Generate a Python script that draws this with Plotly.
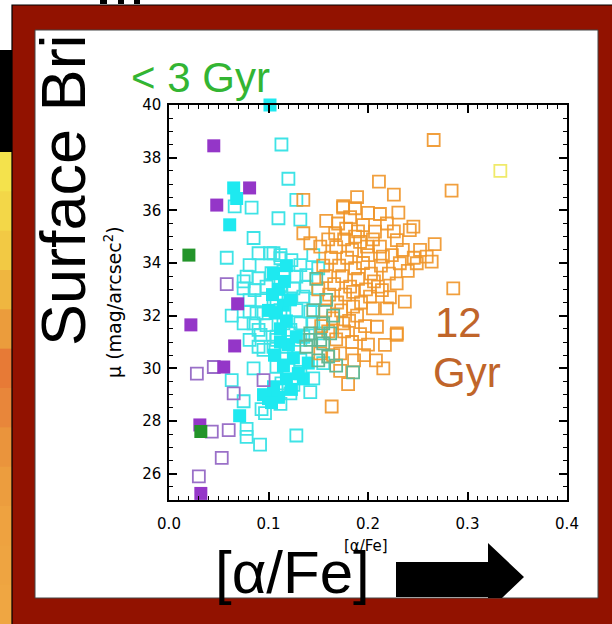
import plotly.graph_objects as go

# ---- data: [alpha/Fe] vs surface brightness mu (mag/arcsec^2) per population ----
green_filled = [(0.020, 34.30), (0.032, 27.60)]

purple_filled = [(0.045, 38.45), (0.081, 36.85), (0.048, 36.20), (0.069, 32.45),
                 (0.022, 31.65), (0.066, 30.85), (0.055, 30.05), (0.031, 27.85), (0.032, 25.25)]

purple_open = [(0.058, 33.20), (0.045, 30.05), (0.028, 29.80), (0.065, 29.05), (0.095, 29.55),
               (0.043, 27.60), (0.060, 27.65), (0.053, 26.60), (0.030, 25.90)]

cyan_filled = [(0.1015, 40.00), (0.065, 36.85), (0.068, 36.45), (0.061, 35.45), (0.071, 28.20),
               (0.100, 28.85), (0.135, 29.60), (0.105, 33.60), (0.118, 33.90), (0.110, 33.00),
               (0.115, 32.40), (0.108, 32.10), (0.122, 32.60), (0.100, 32.20), (0.118, 31.80),
               (0.112, 31.50), (0.120, 30.90), (0.128, 31.20), (0.125, 30.40), (0.115, 30.10),
               (0.118, 29.60), (0.105, 29.30), (0.095, 29.00), (0.130, 29.80), (0.140, 30.20),
               (0.110, 28.90), (0.104, 32.80), (0.112, 31.00), (0.106, 30.50), (0.123, 29.20),
               (0.103, 28.70), (0.116, 33.30)]

cyan_open = [(0.113, 38.50), (0.120, 37.20), (0.066, 36.15), (0.083, 36.10), (0.128, 36.40),
             (0.110, 35.70), (0.132, 35.65), (0.085, 34.95), (0.058, 34.20), (0.105, 34.37),
             (0.112, 34.30), (0.075, 33.30), (0.063, 32.00), (0.088, 32.09), (0.081, 33.92),
             (0.090, 34.37), (0.1015, 34.37), (0.112, 34.18), (0.123, 34.11), (0.132, 33.92),
             (0.078, 33.48), (0.090, 33.42), (0.103, 33.61), (0.115, 33.67), (0.128, 33.48),
             (0.138, 33.54), (0.075, 33.04), (0.086, 32.97), (0.098, 33.10), (0.112, 33.16),
             (0.125, 33.04), (0.138, 33.10), (0.081, 32.59), (0.093, 32.59), (0.108, 32.59),
             (0.122, 32.66), (0.135, 32.72), (0.147, 32.59), (0.081, 32.15), (0.095, 32.09),
             (0.112, 32.21), (0.128, 32.21), (0.142, 32.15), (0.085, 31.71), (0.098, 31.64),
             (0.115, 31.71), (0.132, 31.71), (0.145, 31.71), (0.075, 31.71), (0.092, 31.27),
             (0.108, 31.20), (0.122, 31.33), (0.135, 31.20), (0.152, 31.33), (0.090, 31.46),
             (0.090, 30.82), (0.105, 30.82), (0.118, 30.82), (0.081, 31.08), (0.108, 31.08),
             (0.132, 31.08), (0.122, 31.46), (0.095, 30.70), (0.118, 30.57), (0.132, 30.32),
             (0.108, 30.06), (0.120, 29.94), (0.132, 29.81), (0.145, 29.62), (0.113, 29.43),
             (0.125, 29.37), (0.085, 30.00), (0.063, 29.55), (0.075, 28.75), (0.078, 27.70),
             (0.078, 27.40), (0.0915, 27.10), (0.128, 27.45), (0.0965, 28.30), (0.093, 28.45),
             (0.112, 28.65), (0.122, 29.05), (0.108, 29.20), (0.142, 29.10), (0.155, 30.20),
             (0.145, 34.30), (0.150, 33.80)]

teal_open = [(0.145, 32.21), (0.155, 31.71), (0.162, 31.33), (0.142, 31.08), (0.155, 30.95),
             (0.142, 31.33), (0.152, 31.08), (0.138, 30.82), (0.160, 30.45), (0.168, 30.10),
             (0.185, 29.85), (0.150, 30.30), (0.165, 32.00), (0.158, 32.60), (0.148, 33.40)]

orange_open = [(0.266, 38.67), (0.211, 37.09), (0.226, 36.60), (0.284, 36.75), (0.189, 36.50),
               (0.175, 36.16), (0.187, 36.08), (0.212, 35.86), (0.2305, 35.91), (0.182, 35.74),
               (0.195, 35.44), (0.219, 35.50), (0.2456, 35.38), (0.167, 35.13), (0.187, 35.00),
               (0.207, 35.19), (0.229, 34.87), (0.242, 35.25), (0.267, 34.72), (0.2523, 34.50),
               (0.259, 34.24), (0.264, 34.05), (0.249, 33.99), (0.232, 33.99), (0.212, 34.62),
               (0.215, 34.24), (0.199, 34.62), (0.2857, 33.04), (0.237, 32.53), (0.2288, 33.23),
               (0.214, 32.97), (0.202, 32.72), (0.185, 32.34), (0.209, 31.58), (0.229, 31.33),
               (0.175, 31.71), (0.135, 36.40), (0.175, 36.10), (0.135, 35.13), (0.142, 34.75),
               (0.152, 34.62), (0.1635, 28.55), (0.2154, 30.00), (0.217, 30.89), (0.2288, 31.27),
               (0.165, 30.50), (0.152, 30.57), (0.172, 30.57), (0.219, 32.28), (0.205, 32.28),
               (0.160, 34.90), (0.168, 34.60), (0.176, 34.90), (0.184, 34.50), (0.192, 34.80),
               (0.200, 34.30), (0.163, 34.20), (0.171, 33.90), (0.179, 34.20), (0.187, 33.80),
               (0.195, 34.00), (0.203, 33.60), (0.158, 33.50), (0.166, 33.20), (0.174, 33.50),
               (0.182, 33.10), (0.190, 33.40), (0.198, 33.00), (0.206, 33.30), (0.161, 32.80),
               (0.169, 32.50), (0.177, 32.80), (0.185, 32.90), (0.193, 32.50), (0.157, 32.20),
               (0.165, 31.90), (0.173, 32.20), (0.181, 31.80), (0.189, 32.00), (0.197, 31.60),
               (0.160, 31.40), (0.168, 31.10), (0.176, 31.40), (0.184, 31.00), (0.192, 31.30),
               (0.200, 30.90), (0.170, 35.50), (0.178, 35.30), (0.158, 35.60), (0.190, 35.20),
               (0.205, 34.90), (0.213, 33.90), (0.221, 33.60), (0.210, 33.10), (0.224, 34.30),
               (0.235, 34.50), (0.240, 33.70), (0.246, 34.20), (0.226, 35.20), (0.200, 35.90),
               (0.222, 32.70), (0.196, 30.50), (0.186, 30.30), (0.172, 29.90), (0.180, 29.40),
               (0.208, 30.30), (0.155, 33.90), (0.150, 33.00), (0.153, 31.60)]

yellow_open = [(0.333, 37.50)]

x_ticks = [0.0, 0.1, 0.2, 0.3, 0.4]
x_tick_text = ["0.0", "0.1", "0.2", "0.3", "0.4"]
y_ticks = [26, 28, 30, 32, 34, 36, 38, 40]

# ---- page geometry (pixels) ----
W, H = 612, 624
PL, PR, PT, PB = 169, 567, 105, 500   # plot area edges


def fx(px):
    return (px - PL) / (PR - PL)


def fy(py):
    return (PB - py) / (PB - PT)


def scatter(points, symbol, size, color, line_w=0, line_c=None, opacity=1.0):
    xs = [p[0] for p in points]
    ys = [p[1] for p in points]
    marker = dict(symbol=symbol, size=size, color=color, opacity=opacity)
    if line_w:
        marker["line"] = dict(width=line_w, color=line_c or color)
    else:
        marker["line"] = dict(width=0)
    return go.Scatter(x=xs, y=ys, mode="markers", marker=marker,
                      cliponaxis=False, showlegend=False, hoverinfo="x+y")


fig = go.Figure()
fig.add_trace(scatter(cyan_open, "square-open", 12, "#3ee3e6", 1.8))
fig.add_trace(scatter(cyan_filled, "square", 13, "#1ee9f0"))
fig.add_trace(scatter(orange_open, "square-open", 12, "#f09528", 1.8, opacity=0.9))
fig.add_trace(scatter(teal_open, "square-open", 12, "#62b894", 1.8))
fig.add_trace(scatter(purple_open, "square-open", 12, "#9a70c8", 1.8))
fig.add_trace(scatter(purple_filled, "square", 13, "#9436c8"))
fig.add_trace(scatter(green_filled, "square", 13, "#23942a"))
fig.add_trace(scatter(yellow_open, "square-open", 12, "#f0ea6a", 1.8))

shapes = []

# slide edge strip on the left: black block then a yellow-to-orange band
shapes.append(dict(type="rect", xref="paper", yref="paper", layer="below",
                   x0=fx(0), x1=fx(12), y0=fy(152), y1=fy(50),
                   fillcolor="#000000", line=dict(width=0)))
strip_colors = ["#f4e24c", "#f3d748", "#f2c944", "#efb640", "#eb9c3c", "#e77a36",
                "#e8863a", "#ea943c", "#ec9d3e", "#eea240", "#eea441", "#efa642"]
band_h = (624 - 152) / len(strip_colors)
for i, c in enumerate(strip_colors):
    shapes.append(dict(type="rect", xref="paper", yref="paper", layer="below",
                       x0=fx(0), x1=fx(12), y0=fy(152 + (i + 1) * band_h + 1),
                       y1=fy(152 + i * band_h), fillcolor=c, line=dict(width=0)))

# dark red frame and white panel
shapes.append(dict(type="rect", xref="paper", yref="paper", layer="below",
                   x0=fx(12), x1=fx(660), y0=fy(680), y1=fy(5),
                   fillcolor="#921200", line=dict(width=1.2, color="#000000")))
shapes.append(dict(type="rect", xref="paper", yref="paper", layer="below",
                   x0=fx(35), x1=fx(598), y0=fy(598), y1=fy(30),
                   fillcolor="#ffffff", line=dict(width=1, color="#444444")))

# clipped glyph stems peeking above the frame
for a, b in [(100, 107), (118, 124), (134, 140)]:
    shapes.append(dict(type="rect", xref="paper", yref="paper", layer="below",
                       x0=fx(a), x1=fx(b), y0=fy(4), y1=fy(0),
                       fillcolor="#000000", line=dict(width=0)))

# block arrow after the big axis label
arrow_pts = [(396, 562), (488, 562), (488, 543), (524, 577), (502, 598),
             (488, 598), (488, 597), (396, 597)]
path = "M " + " L ".join(f"{fx(px):.5f},{fy(py):.5f}" for px, py in arrow_pts) + " Z"
shapes.append(dict(type="path", xref="paper", yref="paper", layer="above",
                   path=path, fillcolor="#000000", line=dict(width=0)))

annotations = [
    dict(text="Surface Bri", x=fx(63), y=fy(190), textangle=-90,
         font=dict(family="Liberation Sans, Arial", size=63, color="#000000")),
    dict(text="&lt; 3 Gyr", x=fx(200), y=fy(77),
         font=dict(family="Liberation Sans, Arial", size=42, color="#33b533")),
    dict(text="12", x=fx(433), y=fy(322), xanchor="left",
         font=dict(family="Liberation Sans, Arial", size=42, color="#c0652a")),
    dict(text="Gyr", x=fx(431), y=fy(372), xanchor="left",
         font=dict(family="Liberation Sans, Arial", size=42, color="#c0652a")),
    dict(text="μ (mag/arcsec<sup>2</sup>)", x=fx(113), y=fy(302), textangle=-90,
         font=dict(family="DejaVu Sans", size=19, color="#000000")),
    dict(text="[α/Fe]", x=fx(366), y=fy(546),
         font=dict(family="DejaVu Sans", size=15, color="#000000")),
    dict(text="[α/Fe]", x=fx(292), y=fy(572),
         font=dict(family="Liberation Sans, Arial", size=60, color="#000000")),
]
for a in annotations:
    a.update(xref="paper", yref="paper", showarrow=False)
    a.setdefault("xanchor", "center")
    a.setdefault("yanchor", "middle")

axis_common = dict(showline=True, linecolor="#000000", linewidth=1.5, mirror="ticks",
                   ticks="inside", ticklen=8, tickwidth=1.5, tickcolor="#000000",
                   showgrid=False, zeroline=False,
                   tickfont=dict(family="DejaVu Sans", size=15, color="#000000"))

fig.update_layout(
    width=W, height=H, autosize=False,
    margin=dict(l=PL, r=W - PR, t=PT, b=H - PB, pad=0),
    paper_bgcolor="#ffffff", plot_bgcolor="#ffffff",
    xaxis=dict(range=[0, 0.4], tickvals=x_ticks, ticktext=x_tick_text,
               ticklabelstandoff=9,
               minor=dict(ticks="inside", ticklen=4, tickwidth=1.2, tickcolor="#000000",
                          dtick=0.01, tick0=0), **axis_common),
    yaxis=dict(range=[25, 40], tickvals=y_ticks, ticklabelstandoff=3,
               minor=dict(ticks="inside", ticklen=4, tickwidth=1.2, tickcolor="#000000",
                          dtick=0.5, tick0=0), **axis_common),
    shapes=shapes, annotations=annotations,
)

fig.write_html("out.html")
